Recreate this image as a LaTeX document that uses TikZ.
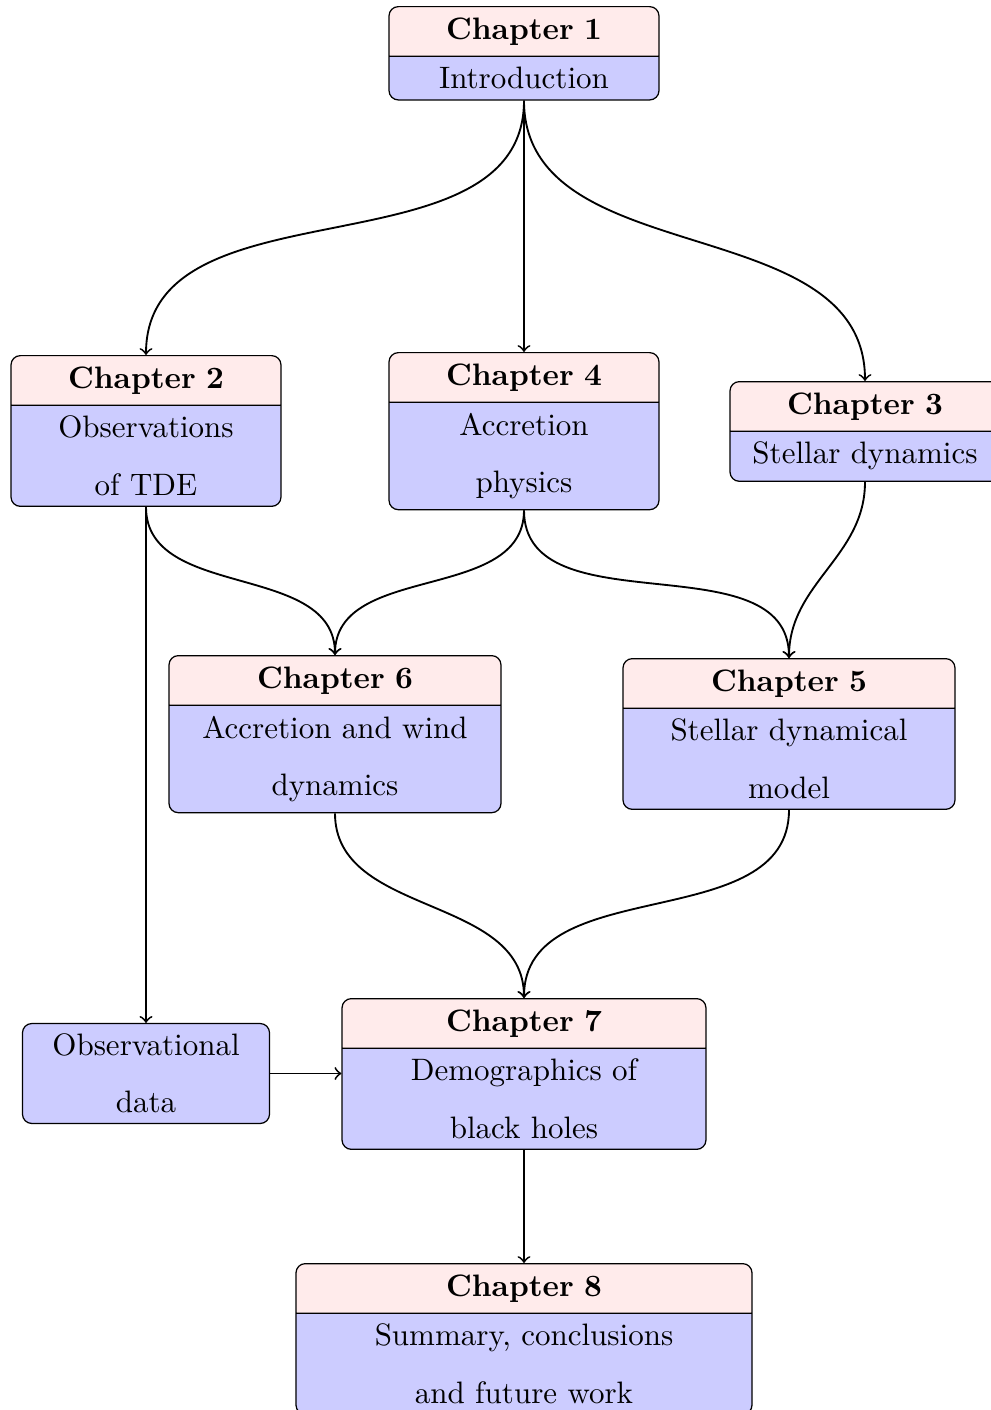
\documentclass[tikz,border=0pt]{standalone}
\usetikzlibrary{shapes.multipart}
\begin{document}
\begin{tikzpicture}[x=0.3225pt,y=0.3225pt,
  chap/.style={rectangle split, rectangle split parts=2, draw, rounded corners=3pt,
    rectangle split part fill={red!8,blue!20}, align=center, anchor=north,
    font=\fontsize{10}{18.4}\selectfont},
  plainbox/.style={draw, rounded corners=3pt, fill=blue!20, align=center, anchor=north,
    font=\fontsize{10}{18.4}\selectfont},
  link/.style={->, semithick}]
\useasboundingbox (0,0) rectangle (990,-1410);
\node[chap, text width=80.4pt] (c1) at (524,-6) {\textbf{Chapter 1}\nodepart{two}Introduction};
\node[chap, text width=80.4pt] (c2) at (146,-355) {\textbf{Chapter 2}\nodepart{two}Observations\\ of TDE};
\node[chap, text width=80.4pt] (c4) at (524,-352) {\textbf{Chapter 4}\nodepart{two}Accretion\\ physics};
\node[chap, text width=80.4pt] (c3) at (865,-381) {\textbf{Chapter 3}\nodepart{two}Stellar dynamics};
\node[chap, text width=100.4pt] (c6) at (335,-655) {\textbf{Chapter 6}\nodepart{two}Accretion and wind\\ dynamics};
\node[chap, text width=100.4pt] (c5) at (789,-658) {\textbf{Chapter 5}\nodepart{two}Stellar dynamical\\ model};
\node[chap, text width=110.7pt] (c7) at (524,-998) {\textbf{Chapter 7}\nodepart{two}Demographics of\\ black holes};
\node[plainbox, text width=73pt, anchor=center] (obs) at (146,-1073.5) {Observational\\ data};
\node[chap, text width=140.4pt] (c8) at (524,-1263) {\textbf{Chapter 8}\nodepart{two}Summary, conclusions\\ and future work};
\draw[link] (c1.south) to[out=-90,in=90] (c2.north);
\draw[link] (c1.south) -- (c4.north);
\draw[link] (c1.south) to[out=-90,in=90] (c3.north);
\draw[link] (c2.south) to[out=-90,in=90] (c6.north);
\draw[link] (c4.south) to[out=-90,in=90] (c6.north);
\draw[link] (c4.south) to[out=-90,in=90] (c5.north);
\draw[link] (c3.south) to[out=-90,in=90] (c5.north);
\draw[link] (c2.south) -- (obs.north);
\draw[link] (c6.south) to[out=-90,in=90] (c7.north);
\draw[link] (c5.south) to[out=-90,in=90] (c7.north);
\draw[link] (obs.east) -- (obs.east -| c7.west);
\draw[link] (c7.south) -- (c8.north);
\end{tikzpicture}
\end{document}
